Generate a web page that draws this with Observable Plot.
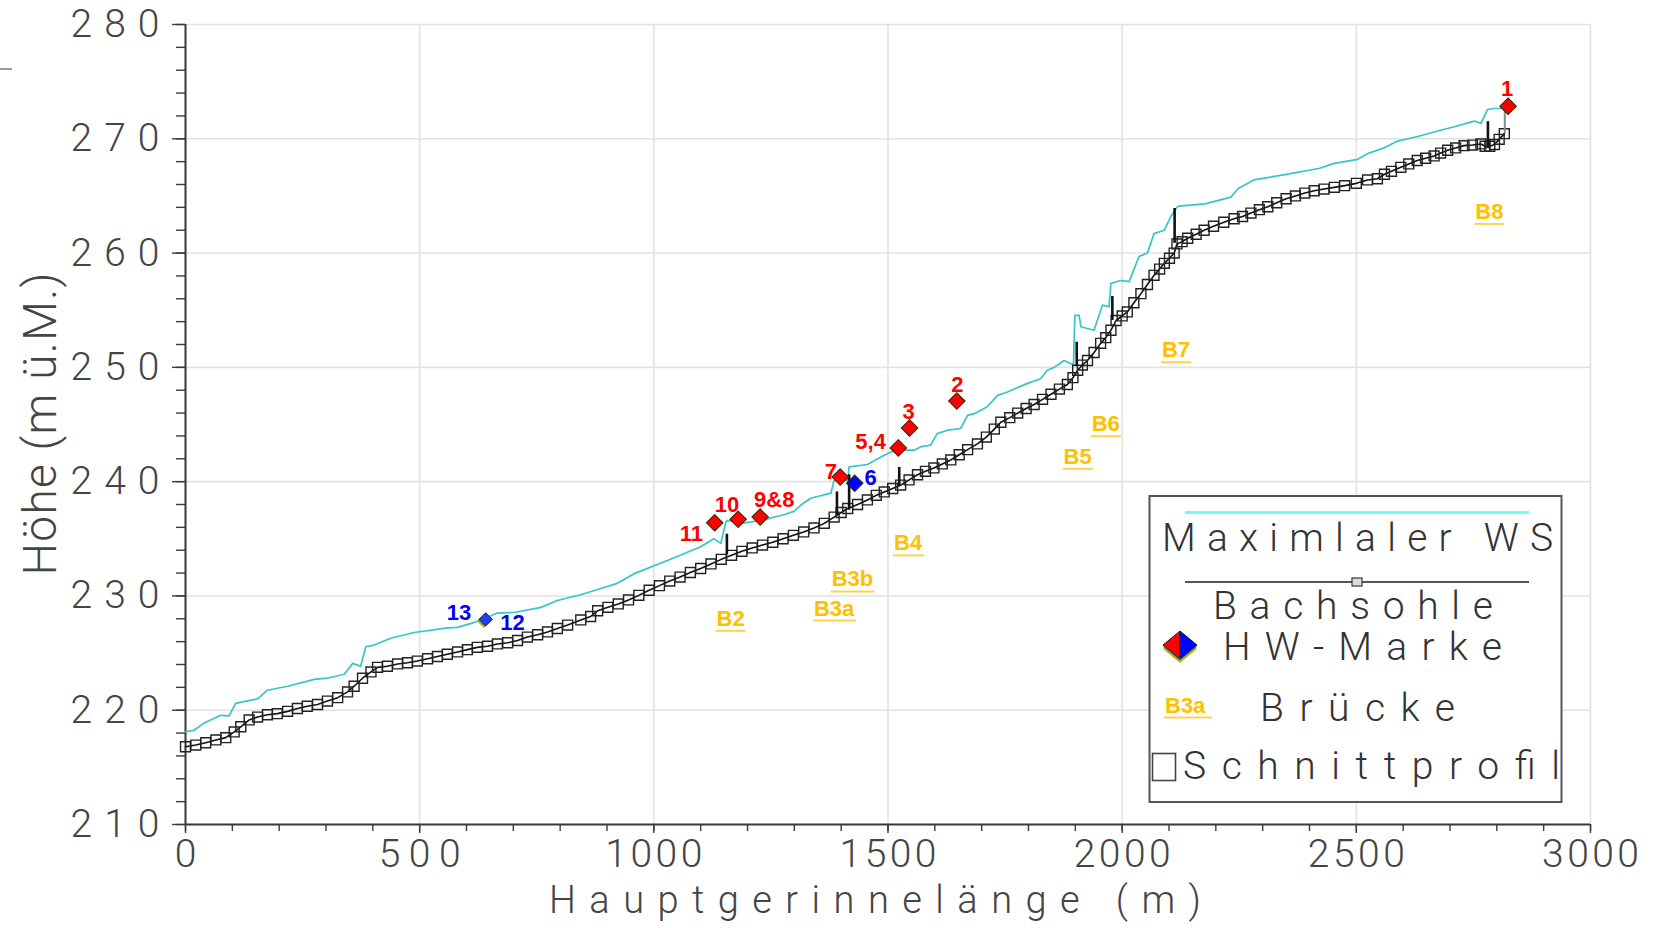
<!DOCTYPE html>
<html><head><meta charset="utf-8">
<script src="https://cdn.jsdelivr.net/npm/d3@7"></script>
<script src="https://cdn.jsdelivr.net/npm/@observablehq/plot@0.6"></script>
<style>
body{margin:0;background:#fff;}
#chart{position:relative;width:1655px;height:928px;overflow:hidden;}
</style></head><body><div id="chart"></div>
<script>
// ---- data ----
// Bachsohle: one point per cross-section (Schnittprofil)
const bedX = [0,22,43,65,86,104,118,136,154,175,196,218,239,260,282,303,325,346,360,378,396,410,431,453,474,495,517,538,559,581,602,623,645,666,688,709,730,752,773,794,816,844,865,880,902,924,946,968,990,1012,1034,1056,1078,1100,1122,1144,1166,1188,1210,1232,1254,1276,1298,1320,1342,1364,1385,1400,1414,1435,1456,1475,1492,1510,1527,1545,1563,1580,1598,1616,1634,1652,1670,1691,1710,1727,1741,1760,1777,1795,1812,1830,1848,1866,1883,1895,1905,1915,1926,1940,1954,1965,1976,1987,2000,2011,2025,2040,2054,2068,2080,2090,2101,2111,2117,2128,2140,2158,2175,2195,2217,2239,2257,2275,2293,2311,2330,2350,2370,2390,2410,2431,2453,2475,2500,2524,2545,2560,2575,2595,2612,2630,2648,2666,2680,2695,2712,2730,2748,2766,2775,2785,2795,2805,2816];
const bedY = [216.8,216.95,217.15,217.4,217.6,218.1,218.55,219.15,219.4,219.6,219.7,219.9,220.15,220.35,220.5,220.8,221.1,221.6,222.1,222.8,223.35,223.75,223.85,224.05,224.15,224.3,224.5,224.7,224.9,225.1,225.3,225.5,225.6,225.8,225.9,226.1,226.4,226.6,226.85,227.15,227.45,227.9,228.2,228.7,229.0,229.3,229.65,230.05,230.5,230.9,231.3,231.65,232.05,232.4,232.8,233.2,233.55,233.9,234.2,234.45,234.7,235.0,235.3,235.6,235.95,236.35,236.9,237.3,237.65,238.0,238.4,238.8,239.1,239.4,239.7,240.15,240.6,240.9,241.2,241.55,241.9,242.35,242.8,243.3,243.9,244.6,245.2,245.6,246.0,246.4,246.75,247.2,247.65,248.1,248.5,249.1,249.75,250.2,250.6,251.3,252.1,252.6,253.25,254.1,254.5,254.85,255.65,256.45,257.25,258.05,258.6,259.1,259.55,260.0,260.8,261.0,261.3,261.65,262.0,262.35,262.7,263.0,263.2,263.5,263.8,264.05,264.4,264.75,265.0,265.25,265.45,265.6,265.75,265.9,266.1,266.4,266.5,266.9,267.15,267.5,267.8,268.1,268.3,268.5,268.75,269.0,269.2,269.4,269.45,269.55,269.35,269.35,269.5,269.95,270.45];

// Maximaler Wasserspiegel
const wsX = [0,18,39,75,93,107,154,175,218,275,303,339,357,374,385,403,438,488,560,581,610,631,666,702,759,794,844,887,922,958,1029,1100,1128,1143,1154,1157,1186,1228,1278,1299,1314,1335,1378,1385,1399,1414,1417,1456,1485,1506,1520,1556,1570,1591,1605,1627,1655,1670,1684,1712,1734,1755,1798,1826,1840,1855,1876,1896,1899,1908,1912,1940,1958,1972,1976,1997,2015,2036,2054,2068,2090,2104,2115,2120,2177,2232,2248,2281,2338,2420,2453,2503,2524,2559,2588,2631,2680,2709,2752,2766,2780,2794,2816];
const wsY = [218.1,218.25,218.85,219.55,219.5,220.6,221.0,221.75,222.1,222.7,222.8,223.15,224.1,223.85,225.55,225.7,226.3,226.8,227.2,227.25,227.6,227.9,228.5,228.55,229.0,229.6,230.1,230.65,231.1,231.95,233.1,234.3,235.0,234.6,236.5,236.6,236.35,236.6,237.1,237.4,237.95,238.55,239.0,240.1,240.3,240.1,241.3,241.5,242.15,242.6,242.75,242.75,243.05,243.2,244.2,244.5,244.65,245.8,245.95,246.55,247.55,247.85,248.6,249.0,249.75,250.0,250.6,250.2,254.55,254.55,253.55,253.25,255.45,255.3,257.35,257.6,257.5,259.7,260.0,261.7,262.0,263.2,263.9,264.1,264.3,264.9,265.65,266.4,266.8,267.4,267.85,268.2,268.7,269.2,269.8,270.2,270.75,271.05,271.55,271.35,272.55,272.65,272.65];

// vertical structure lines at bridges
const structX  = [1156,1391,1417,1524,1903,1979,2112,2781,2817];
const structY1 = [233.6,237.05,237.5,239.55,250.05,254.1,260.85,269.15,270.45];
const structY2 = [235.4,239.1,240.6,241.25,252.2,256.2,263.9,271.5,272.5];

// high-water marks
const hwX    = [2824,1647,1546,1522,1398,1429,1227,1180,1130,641];
const hwY    = [272.85,247.05,244.7,242.95,240.4,239.85,236.9,236.7,236.4,227.95];
const hwKind = ["rot","rot","rot","rot","rot","blau","rot","rot","rot","gemischt"];

const hwLabelText = ["1","2","3","5,4","7","6","9&8","10","11","13","12"];
const hwLabelX    = [2822,1648,1544,1463,1378,1463,1257,1156,1080,584,698];
const hwLabelY    = [274.4,248.5,246.1,243.5,240.85,240.3,238.4,237.95,235.4,228.5,227.65];
const hwLabelKind = ["rot","rot","rot","rot","rot","blau","rot","rot","rot","blau","blau"];

// bridge labels
const bridgeText = ["B2","B3a","B3b","B4","B5","B6","B7","B8"];
const bridgeX    = [1164,1385,1424,1543,1905,1965,2115,2784];
const bridgeY    = [228.0,228.9,231.45,234.6,242.17,245.03,251.5,263.6];

const xMajor = [0,500,1000,1500,2000,2500,3000];
const xMinor = d3.range(0, 3001, 100);
const yMajor = [210,220,230,240,250,260,270,280];
const yMinor = d3.range(210, 281, 2);

// ---- tables ----
const bed = bedX.map((x, i) => ({x, y: bedY[i]}));
const ws = wsX.map((x, i) => ({x, y: wsY[i]}));
const struct = structX.map((x, i) => ({x, y1: structY1[i], y2: structY2[i], last: i === structX.length - 1}));
const hw = hwX.map((x, i) => ({x, y: hwY[i], kind: hwKind[i]}));
const hwMain = hw.filter(d => d.kind !== "gemischt");
const hwMix = hw.filter(d => d.kind === "gemischt");
const hwLab = hwLabelText.map((t, i) => ({t, x: hwLabelX[i], y: hwLabelY[i], kind: hwLabelKind[i]}));
const bridges = bridgeText.map((t, i) => ({t, x: bridgeX[i], y: bridgeY[i]}));

const FONT = "Roboto, 'Open Sans', 'DejaVu Sans', sans-serif";
const BOLD = "'Liberation Sans', Arial, sans-serif";
const axisCol = "#3a3a3a";

const plot = Plot.plot({
  width: 1655, height: 928,
  marginLeft: 185, marginRight: 65, marginTop: 24, marginBottom: 104,
  style: {fontFamily: FONT, background: "white", color: axisCol},
  x: {domain: [0, 3000], label: null},
  y: {domain: [210, 280], label: null},
  color: {type: "ordinal", domain: ["rot", "blau", "gemischt"], range: ["#ff0000", "#0000ff", "#1f3cff"]},
  marks: [
    Plot.gridX(xMajor, {stroke: "#e2e2e2", strokeOpacity: 1, strokeWidth: 1.6}),
    Plot.gridY(yMajor, {stroke: "#e2e2e2", strokeOpacity: 1, strokeWidth: 1.6}),
    Plot.axisY(yMinor, {tickSize: 9, text: null, stroke: axisCol, strokeWidth: 1.4}),
    Plot.axisY(yMajor, {tickSize: 13, tickPadding: 13, fontSize: 39, fontWeight: 300, tickFormat: d => String(d), stroke: axisCol, strokeWidth: 1.4, fill: "#444", ariaDescription: "ylab"}),
    Plot.axisX(xMinor, {tickSize: 7, text: null, stroke: axisCol, strokeWidth: 1.4}),
    Plot.axisX(xMajor, {tickSize: 9, tickPadding: 6, fontSize: 39, fontWeight: 300, tickFormat: d => String(d), stroke: axisCol, strokeWidth: 1.4, fill: "#444", ariaDescription: "xlab"}),
    Plot.ruleX([0], {stroke: axisCol, strokeWidth: 2}),
    Plot.ruleY([210], {stroke: axisCol, strokeWidth: 2}),
    // water surface
    Plot.line(ws, {x: "x", y: "y", stroke: "#36c5c8", strokeWidth: 1.7}),
    // bed
    Plot.line(bed, {x: "x", y: "y", stroke: "#111", strokeWidth: 1.6}),
    Plot.dot(bed, {x: "x", y: "y", symbol: "square", r: 5.6, stroke: "#222", strokeWidth: 1.4, fill: "none"}),
    // structure lines
    Plot.ruleX(struct.filter(d => !d.last), {x: "x", y1: "y1", y2: "y2", stroke: "#111", strokeWidth: 2.6}),
    Plot.ruleX(struct.filter(d => d.last), {x: "x", y1: "y1", y2: "y2", stroke: "#8a8a8a", strokeWidth: 2}),
    // high-water marks
    Plot.dot(hwMix, {x: "x", y: "y", symbol: "diamond2", r: 6, fill: "#e0b000", dx: -2, dy: 2}),
    Plot.dot(hwMix, {x: "x", y: "y", symbol: "diamond2", r: 6, fill: "#1aa7a7", dx: -1, dy: 1}),
    Plot.dot(hwMix, {x: "x", y: "y", symbol: "diamond2", r: 6, fill: "kind", stroke: "#3a2a00", strokeWidth: 1}),
    Plot.dot(hwMain, {x: "x", y: "y", symbol: "diamond2", r: 7.4, fill: "kind", stroke: "#3a2a00", strokeWidth: 1.1}),
    Plot.text(hwLab, {x: "x", y: "y", text: "t", fill: "kind", fontSize: 22, fontWeight: "bold", fontFamily: BOLD}),
    // bridge labels
    Plot.text(bridges, {x: "x", y: "y", text: "t", fill: "#ffc000", fontSize: 22, fontWeight: "bold", fontFamily: BOLD, ariaDescription: "bridges"})
  ]
});

document.getElementById("chart").appendChild(plot);
const svg = d3.select(plot);

// tick label widths (wide stroke font)
svg.selectAll('g[aria-description="ylab"] text').attr("textLength", 89).attr("lengthAdjust", "spacing");
svg.selectAll('g[aria-description="xlab"] text').each(function() {
  const n = this.textContent.length;
  if (n > 1) d3.select(this).attr("textLength", n === 3 ? 82 : 97).attr("lengthAdjust", "spacing");
});

// underline bridge labels
svg.selectAll('g[aria-description="bridges"] text').each(function() {
  const b = this.getBBox();
  d3.select(this.parentNode).append("line")
    .attr("x1", b.x - 1).attr("x2", b.x + b.width + 1)
    .attr("y1", b.y + b.height).attr("y2", b.y + b.height)
    .attr("transform", this.getAttribute("transform"))
    .attr("stroke", "#ffd24d").attr("stroke-width", 2);
});

// axis titles
svg.append("text").text("Hauptgerinnelänge (m)")
  .attr("x", 549).attr("y", 913).attr("text-anchor", "start").attr("textLength", 652).attr("lengthAdjust", "spacing")
  .attr("font-size", 38).attr("font-weight", 300).attr("fill", "#444").attr("font-family", FONT);
svg.append("text").text("Höhe (m ü.M.)")
  .attr("transform", "translate(56,424) rotate(-90)").attr("text-anchor", "middle")
  .attr("textLength", 303).attr("lengthAdjust", "spacing")
  .attr("font-size", 46).attr("font-weight", 300).attr("fill", "#444").attr("font-family", FONT);
// small tick fragment at top left
svg.append("line").attr("x1", 0).attr("x2", 12).attr("y1", 69).attr("y2", 69).attr("stroke", "#777").attr("stroke-width", 1.5);

// legend
const lg = svg.append("g").attr("font-family", FONT).attr("font-weight", 300).attr("fill", "#333").attr("text-anchor", "start");
lg.append("rect").attr("x", 1149.5).attr("y", 496).attr("width", 412).attr("height", 306)
  .attr("fill", "white").attr("stroke", "#555").attr("stroke-width", 2);
lg.append("line").attr("x1", 1185).attr("x2", 1529).attr("y1", 512.5).attr("y2", 512.5).attr("stroke", "#6ffcfc").attr("stroke-width", 3);
lg.append("text").text("Maximlaler WS").attr("x", 1162).attr("y", 551).attr("font-size", 39).attr("textLength", 391).attr("lengthAdjust", "spacing");
lg.append("line").attr("x1", 1185).attr("x2", 1529).attr("y1", 582).attr("y2", 582).attr("stroke", "#555").attr("stroke-width", 2);
lg.append("rect").attr("x", 1352).attr("y", 578).attr("width", 10).attr("height", 8).attr("fill", "#ddd").attr("stroke", "#444").attr("stroke-width", 1.3);
lg.append("text").text("Bachsohle").attr("x", 1213).attr("y", 618.5).attr("font-size", 39).attr("textLength", 280).attr("lengthAdjust", "spacing");
// diamond icon
const cx = 1180, cy = 645;
lg.append("path").attr("d", `M${cx},${cy-14+4} L${cx+17},${cy+4} L${cx},${cy+14+4} L${cx-17},${cy+4}Z`).attr("fill", "#e0b000");
lg.append("path").attr("d", `M${cx},${cy-14+2} L${cx+17},${cy+2} L${cx},${cy+14+2} L${cx-17},${cy+2}Z`).attr("fill", "#1aa7a7");
lg.append("path").attr("d", `M${cx},${cy-14} L${cx},${cy+14} L${cx-17},${cy}Z`).attr("fill", "#ff0000").attr("stroke", "#222").attr("stroke-width", 1);
lg.append("path").attr("d", `M${cx},${cy-14} L${cx+17},${cy} L${cx},${cy+14}Z`).attr("fill", "#0000ff").attr("stroke", "#222").attr("stroke-width", 1);
lg.append("text").text("HW-Marke").attr("x", 1223).attr("y", 660).attr("font-size", 39).attr("textLength", 279).attr("lengthAdjust", "spacing");
lg.append("text").text("B3a").attr("x", 1165).attr("y", 713).attr("font-size", 22).attr("font-weight", "bold").attr("font-family", BOLD).attr("fill", "#ffc000");
lg.append("line").attr("x1", 1164).attr("x2", 1212).attr("y1", 717.5).attr("y2", 717.5).attr("stroke", "#ffd24d").attr("stroke-width", 2);
lg.append("text").text("Brücke").attr("x", 1260).attr("y", 721).attr("font-size", 39).attr("textLength", 195).attr("lengthAdjust", "spacing");
lg.append("rect").attr("x", 1152.5).attr("y", 753.5).attr("width", 23).attr("height", 27).attr("fill", "none").attr("stroke", "#444").attr("stroke-width", 1.6);
lg.append("text").text("Schnittprofil").attr("x", 1183).attr("y", 779).attr("font-size", 39).attr("textLength", 377).attr("lengthAdjust", "spacing");
</script></body></html>
